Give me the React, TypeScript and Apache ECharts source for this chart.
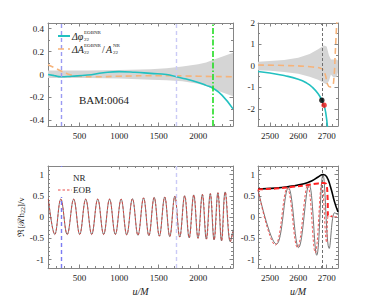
import React, { useEffect, useRef } from 'react';
import * as echarts from 'echarts';

// ---------- data ----------
// top-left: phase / amplitude differences (u/M)
const tlBandU = [100, 300, 600, 1000, 1400, 1600, 1800, 2000, 2100, 2200, 2300, 2440];
const tlBandUpper = [0.035, 0.035, 0.035, 0.04, 0.045, 0.055, 0.07, 0.09, 0.105, 0.13, 0.155, 0.19];
const tlBandLower = [-0.03, -0.03, -0.03, -0.035, -0.045, -0.05, -0.06, -0.08, -0.1, -0.13, -0.155, -0.19];
const tlPhaseU = [100, 180, 262, 400, 600, 800, 1000, 1200, 1400, 1600, 1725, 1850, 2000, 2100, 2187, 2300, 2440];
const tlPhaseV = [0.0, -0.01, -0.02, -0.015, -0.005, 0.015, 0.025, 0.02, 0.01, 0.0, -0.02, -0.04, -0.07, -0.095, -0.12, -0.18, -0.3];
const tlAmpU = [100, 180, 250, 350, 500, 700, 1000, 1500, 2000, 2440];
const tlAmpV = [0.085, 0.06, 0.035, 0.005, -0.015, -0.02, -0.015, -0.01, -0.015, -0.02];

// top-right
const trBandU = [2458, 2500, 2550, 2600, 2640, 2670, 2690, 2700, 2708, 2715, 2725, 2735, 2740];
const trBandUpper = [0.2, 0.23, 0.28, 0.38, 0.55, 0.78, 0.95, 0.9, 0.5, 0.3, 0.3, 0.3, 0.25];
const trBandLower = [-0.2, -0.23, -0.28, -0.36, -0.5, -0.65, -0.8, -0.85, -0.7, -0.4, -0.55, -0.5, -0.3];
const trPhaseU = [2458, 2500, 2550, 2600, 2630, 2650, 2670, 2683, 2691, 2697, 2703];
const trPhaseV = [-0.26, -0.33, -0.45, -0.62, -0.8, -1.0, -1.3, -1.6, -1.85, -2.2, -2.85];
const trAmpU = [2458, 2550, 2650, 2685, 2695, 2703, 2712, 2720, 2726, 2730, 2734, 2737];
const trAmpV = [0.04, 0.02, -0.05, -0.15, -0.4, -0.85, -0.98, -0.95, -0.5, 0.5, 1.6, 2.3];
const trMergerNR = [2683, -1.6];
const trMergerEOB = [2691, -1.83];

// bottom-left: waveform extrema (u/M, value)
const blNrU = [105, 186, 262, 343, 425, 501, 577, 653, 729, 804, 879, 952, 1025, 1096, 1168, 1238, 1309, 1376, 1443, 1509, 1576, 1640, 1704, 1766, 1828, 1885, 1943, 1997, 2052, 2102, 2152, 2200, 2248, 2294, 2340, 2405, 2440];
const blNrV = [0.42, -0.41, 0.42, -0.41, 0.42, -0.41, 0.42, -0.41, 0.42, -0.41, 0.42, -0.41, 0.42, -0.42, 0.43, -0.43, 0.45, -0.44, 0.46, -0.45, 0.47, -0.46, 0.49, -0.47, 0.5, -0.49, 0.52, -0.5, 0.53, -0.52, 0.55, -0.54, 0.57, -0.56, 0.59, -0.58, -0.3];
const blEobU = [105, 186, 262, 343, 425, 501, 577, 653, 729, 804, 879, 952, 1025, 1096, 1168, 1238, 1309, 1376, 1443, 1509, 1577, 1641, 1705, 1767, 1830, 1887, 1945, 1999, 2054, 2105, 2155, 2203, 2251, 2297, 2343, 2408, 2440];
const blEobV = [0.42, -0.41, 0.42, -0.41, 0.42, -0.41, 0.42, -0.41, 0.42, -0.41, 0.42, -0.41, 0.42, -0.42, 0.43, -0.43, 0.45, -0.44, 0.46, -0.45, 0.47, -0.46, 0.49, -0.47, 0.5, -0.49, 0.52, -0.5, 0.53, -0.52, 0.55, -0.54, 0.57, -0.56, 0.59, -0.58, -0.35];

// bottom-right: waveform extrema and amplitudes
const brNrU = [2458, 2523, 2565, 2601, 2638, 2665, 2687, 2709, 2728, 2740];
const brNrV = [0.64, -0.64, 0.69, -0.72, 0.77, -0.9, 1.0, -0.74, 0.1, 0.05];
const brEobU = [2458, 2519, 2561, 2597, 2633, 2660, 2683, 2700, 2706, 2740];
const brEobV = [0.64, -0.66, 0.68, -0.72, 0.75, -0.84, 0.79, -0.6, 0.02, 0.0];
const brNrAmpU = [2458, 2520, 2570, 2620, 2650, 2670, 2688, 2700, 2714, 2728, 2740];
const brNrAmpV = [0.66, 0.68, 0.72, 0.78, 0.86, 0.94, 1.0, 0.95, 0.7, 0.35, 0.12];
const brEobAmpU = [2458, 2520, 2580, 2630, 2670, 2690, 2698, 2703, 2705, 2720];
const brEobAmpV = [0.65, 0.67, 0.71, 0.75, 0.79, 0.8, 0.78, 0.5, 0.03, 0.02];

const leftMarkers = [262, 1725];
const greenMarker = 2187;
const mergerMarker = 2686;

// ---------- styling ----------
const AX = '#858585';
const TXT = '#222';
const FONT = 'Liberation Serif';

const pairs = (u: number[], v: number[]) => u.map((x, i) => [x, v[i]]);

function fmtStep(step: number) {
  return (v: number) => {
    const r = v / step;
    if (Math.abs(r - Math.round(r)) > 1e-6) return '';
    return String(Math.round(v * 1000) / 1000);
  };
}

function axisPair(kind: 'x' | 'y', grid: number, min: number, max: number, split: number, step: number, minorSplit: number, labelMargin: number, extra: any = {}) {
  const common: any = {
    type: 'value', gridIndex: grid, min, max, splitNumber: split,
    splitLine: { show: false },
    axisLine: { show: true, onZero: false, lineStyle: { color: AX, width: 1 } },
    axisTick: { show: true, inside: true, length: 3.5, lineStyle: { color: AX } },
    minorTick: { show: true, splitNumber: minorSplit, length: 2, lineStyle: { color: AX } },
  };
  return [
    {
      ...common,
      position: kind === 'x' ? 'bottom' : 'left',
      axisLabel: { show: true, formatter: fmtStep(step), color: TXT, fontFamily: FONT, fontSize: 9, margin: labelMargin },
      ...extra,
    },
    { ...common, position: kind === 'x' ? 'top' : 'right', axisLabel: { show: false } },
  ];
}

function markLineSeries(grid: number, x: number, color: string, type: any, width: number, z = 3) {
  return {
    type: 'line', xAxisIndex: grid * 2, yAxisIndex: grid * 2, data: [], silent: true, z,
    markLine: {
      silent: true, symbol: ['none', 'none'], label: { show: false }, animation: false,
      lineStyle: { color, type, width },
      data: [{ xAxis: x }],
    },
  };
}

function lineSeries(grid: number, data: any[], color: string, width: number, type: any = 'solid', smooth: any = false, z = 4) {
  return {
    type: 'line', xAxisIndex: grid * 2, yAxisIndex: grid * 2, data, showSymbol: false, symbol: 'none',
    smooth, silent: true, z,
    lineStyle: { color, width, type },
  };
}

function bandSeries(grid: number, u: number[], lower: number[], upper: number[]) {
  return {
    type: 'custom', xAxisIndex: grid * 2, yAxisIndex: grid * 2, silent: true, z: 1, clip: true,
    data: u.map((x, i) => [x, lower[i], upper[i]]),
    encode: { x: 0, y: [1, 2] },
    renderItem: (params: any, api: any) => {
      if (params.dataIndex !== 0) return null;
      const top = u.map((x, i) => api.coord([x, upper[i]]));
      const bot = u.map((x, i) => api.coord([x, lower[i]])).reverse();
      return {
        type: 'polygon',
        shape: { points: [...top, ...bot] },
        style: { fill: '#d5d5d5', stroke: 'none' },
      };
    },
  };
}

export default function App() {
  const ref = useRef<HTMLDivElement>(null);
  useEffect(() => {
    if (!ref.current) return;
    const chart = echarts.init(ref.current, undefined, { renderer: 'svg' });
    const grids = [
      { left: 48, top: 23, width: 185, height: 103 },
      { left: 258, top: 23, width: 80, height: 103 },
      { left: 48, top: 166, width: 185, height: 102 },
      { left: 258, top: 166, width: 80, height: 102 },
    ].map((g) => ({ ...g, outerBoundsMode: 'none', containLabel: false }));

    const nameStyle = { fontFamily: FONT, fontSize: 10, color: TXT, fontStyle: 'italic' };
    const xAxis = [
      ...axisPair('x', 0, 100, 2440, 5, 500, 5, 5),
      ...axisPair('x', 1, 2458, 2740, 3, 100, 5, 5),
      ...axisPair('x', 2, 100, 2440, 5, 500, 5, 5, { name: 'u/M', nameLocation: 'middle', nameGap: 18, nameTextStyle: nameStyle }),
      ...axisPair('x', 3, 2458, 2740, 3, 100, 5, 5, { name: 'u/M', nameLocation: 'middle', nameGap: 18, nameTextStyle: nameStyle }),
    ];
    const yAxis = [
      ...axisPair('y', 0, -0.45, 0.45, 5, 0.2, 2, 4),
      ...axisPair('y', 1, -2.8, 2, 5, 1, 2, 3),
      ...axisPair('y', 2, -1.2, 1.2, 5, 0.5, 5, 4, {
        name: '{a|ℜ[ℛh}{s|22}{a|]/ν}', nameLocation: 'middle', nameGap: 22, nameRotate: 90,
        nameTextStyle: {
          rich: {
            a: { fontFamily: FONT, fontSize: 9, color: TXT },
            s: { fontFamily: FONT, fontSize: 6, color: TXT, verticalAlign: 'bottom', padding: [3, 0, 0, 0] },
          },
        },
      }),
      ...axisPair('y', 3, -1.2, 1.2, 5, 0.5, 5, 3),
    ];

    const series: any[] = [
      // top-left
      bandSeries(0, tlBandU, tlBandLower, tlBandUpper),
      markLineSeries(0, leftMarkers[0], '#9a9af2', [4, 3], 1.4),
      markLineSeries(0, leftMarkers[1], '#cacaf6', [4, 3], 1.4),
      markLineSeries(0, greenMarker, '#22dd22', [6, 2, 1.5, 2], 1.6, 5),
      lineSeries(0, pairs(tlAmpU, tlAmpV), '#f6b37a', 1.6, [6, 4], true),
      lineSeries(0, pairs(tlPhaseU, tlPhaseV), '#22c0c0', 1.6, 'solid', true),
      // top-right
      bandSeries(1, trBandU, trBandLower, trBandUpper),
      markLineSeries(1, mergerMarker, '#707070', [3, 2], 1),
      lineSeries(1, pairs(trAmpU, trAmpV), '#f6b37a', 1.6, [6, 4], true),
      lineSeries(1, pairs(trPhaseU, trPhaseV), '#22c0c0', 1.6, 'solid', true),
      {
        type: 'scatter', xAxisIndex: 2, yAxisIndex: 2, data: [trMergerNR], symbolSize: 5.5, z: 6,
        itemStyle: { color: '#000' }, silent: true,
      },
      {
        type: 'scatter', xAxisIndex: 2, yAxisIndex: 2, data: [trMergerEOB], symbolSize: 5.5, z: 6,
        itemStyle: { color: '#ee1111' }, silent: true,
      },
      // bottom-left
      markLineSeries(2, leftMarkers[0], '#7b7bf2', [4, 3], 1.4),
      markLineSeries(2, leftMarkers[1], '#cacaf6', [4, 3], 1.4),
      lineSeries(2, pairs(blNrU, blNrV), '#555', 0.8, 'solid', 0.4),
      lineSeries(2, pairs(blEobU, blEobV), '#e53935', 0.8, [2.5, 2], 0.4),
      // bottom-right
      markLineSeries(3, mergerMarker, '#707070', [3, 2], 1),
      lineSeries(3, pairs(brNrU, brNrV), '#666', 0.9, 'solid', 0.4),
      lineSeries(3, pairs(brEobU, brEobV), '#ee4444', 0.9, [2.5, 2], 0.4),
      lineSeries(3, pairs(brNrAmpU, brNrAmpV), '#000', 1.6, 'solid', true, 6),
      lineSeries(3, pairs(brEobAmpU, brEobAmpV), '#ff2020', 2, [5, 3], true, 6),
    ];

    const tf = (extra: any) => ({ fontFamily: FONT, fill: TXT, ...extra });
    const graphic: any[] = [
      // top-left legend
      { type: 'line', z: 100, shape: { x1: 58, y1: 36, x2: 70, y2: 36 }, style: { stroke: '#22c0c0', lineWidth: 2 } },
      { type: 'text', z: 100, x: 72, y: 36, style: tf({ text: 'Δφ', fontSize: 10, fontStyle: 'italic', verticalAlign: 'middle' }) },
      { type: 'text', z: 100, x: 84, y: 32.5, style: tf({ text: 'EOBNR', fontSize: 5, verticalAlign: 'middle' }) },
      { type: 'text', z: 100, x: 84, y: 39, style: tf({ text: '22', fontSize: 5, verticalAlign: 'middle' }) },
      { type: 'line', z: 100, shape: { x1: 58, y1: 49, x2: 70, y2: 49 }, style: { stroke: '#f6b37a', lineWidth: 1.6, lineDash: [6, 4] } },
      { type: 'text', z: 100, x: 72, y: 49, style: tf({ text: 'ΔA', fontSize: 10, fontStyle: 'italic', verticalAlign: 'middle' }) },
      { type: 'text', z: 100, x: 84, y: 45.5, style: tf({ text: 'EOBNR', fontSize: 5, verticalAlign: 'middle' }) },
      { type: 'text', z: 100, x: 84, y: 52, style: tf({ text: '22', fontSize: 5, verticalAlign: 'middle' }) },
      { type: 'text', z: 100, x: 102, y: 49, style: tf({ text: '/', fontSize: 10, verticalAlign: 'middle' }) },
      { type: 'text', z: 100, x: 106, y: 49, style: tf({ text: 'A', fontSize: 10, fontStyle: 'italic', verticalAlign: 'middle' }) },
      { type: 'text', z: 100, x: 113, y: 45.5, style: tf({ text: 'NR', fontSize: 5, verticalAlign: 'middle' }) },
      { type: 'text', z: 100, x: 113, y: 52, style: tf({ text: '22', fontSize: 5, verticalAlign: 'middle' }) },
      // label
      { type: 'text', z: 100, x: 104, y: 100, style: tf({ text: 'BAM:0064', fontSize: 11, align: 'center', verticalAlign: 'middle' }) },
      // bottom-left legend
      { type: 'rect', z: 99, shape: { x: 50, y: 167, width: 60, height: 30 }, style: { fill: '#fff' } },
      { type: 'text', z: 100, x: 73, y: 178, style: tf({ text: 'NR', fontSize: 9, verticalAlign: 'middle' }) },
      { type: 'line', z: 100, shape: { x1: 58, y1: 190, x2: 72, y2: 190 }, style: { stroke: '#e53935', lineWidth: 0.9, lineDash: [2.5, 2] } },
      { type: 'text', z: 100, x: 73, y: 190, style: tf({ text: 'EOB', fontSize: 9, verticalAlign: 'middle' }) },
    ];

    chart.setOption({
      animation: false,
      backgroundColor: '#fff',
      grid: grids,
      xAxis,
      yAxis,
      series,
      graphic,
    });
    return () => chart.dispose();
  }, []);
  return <div ref={ref} style={{ width: 374, height: 302, position: 'absolute', left: 0, top: 0 }} />;
}
